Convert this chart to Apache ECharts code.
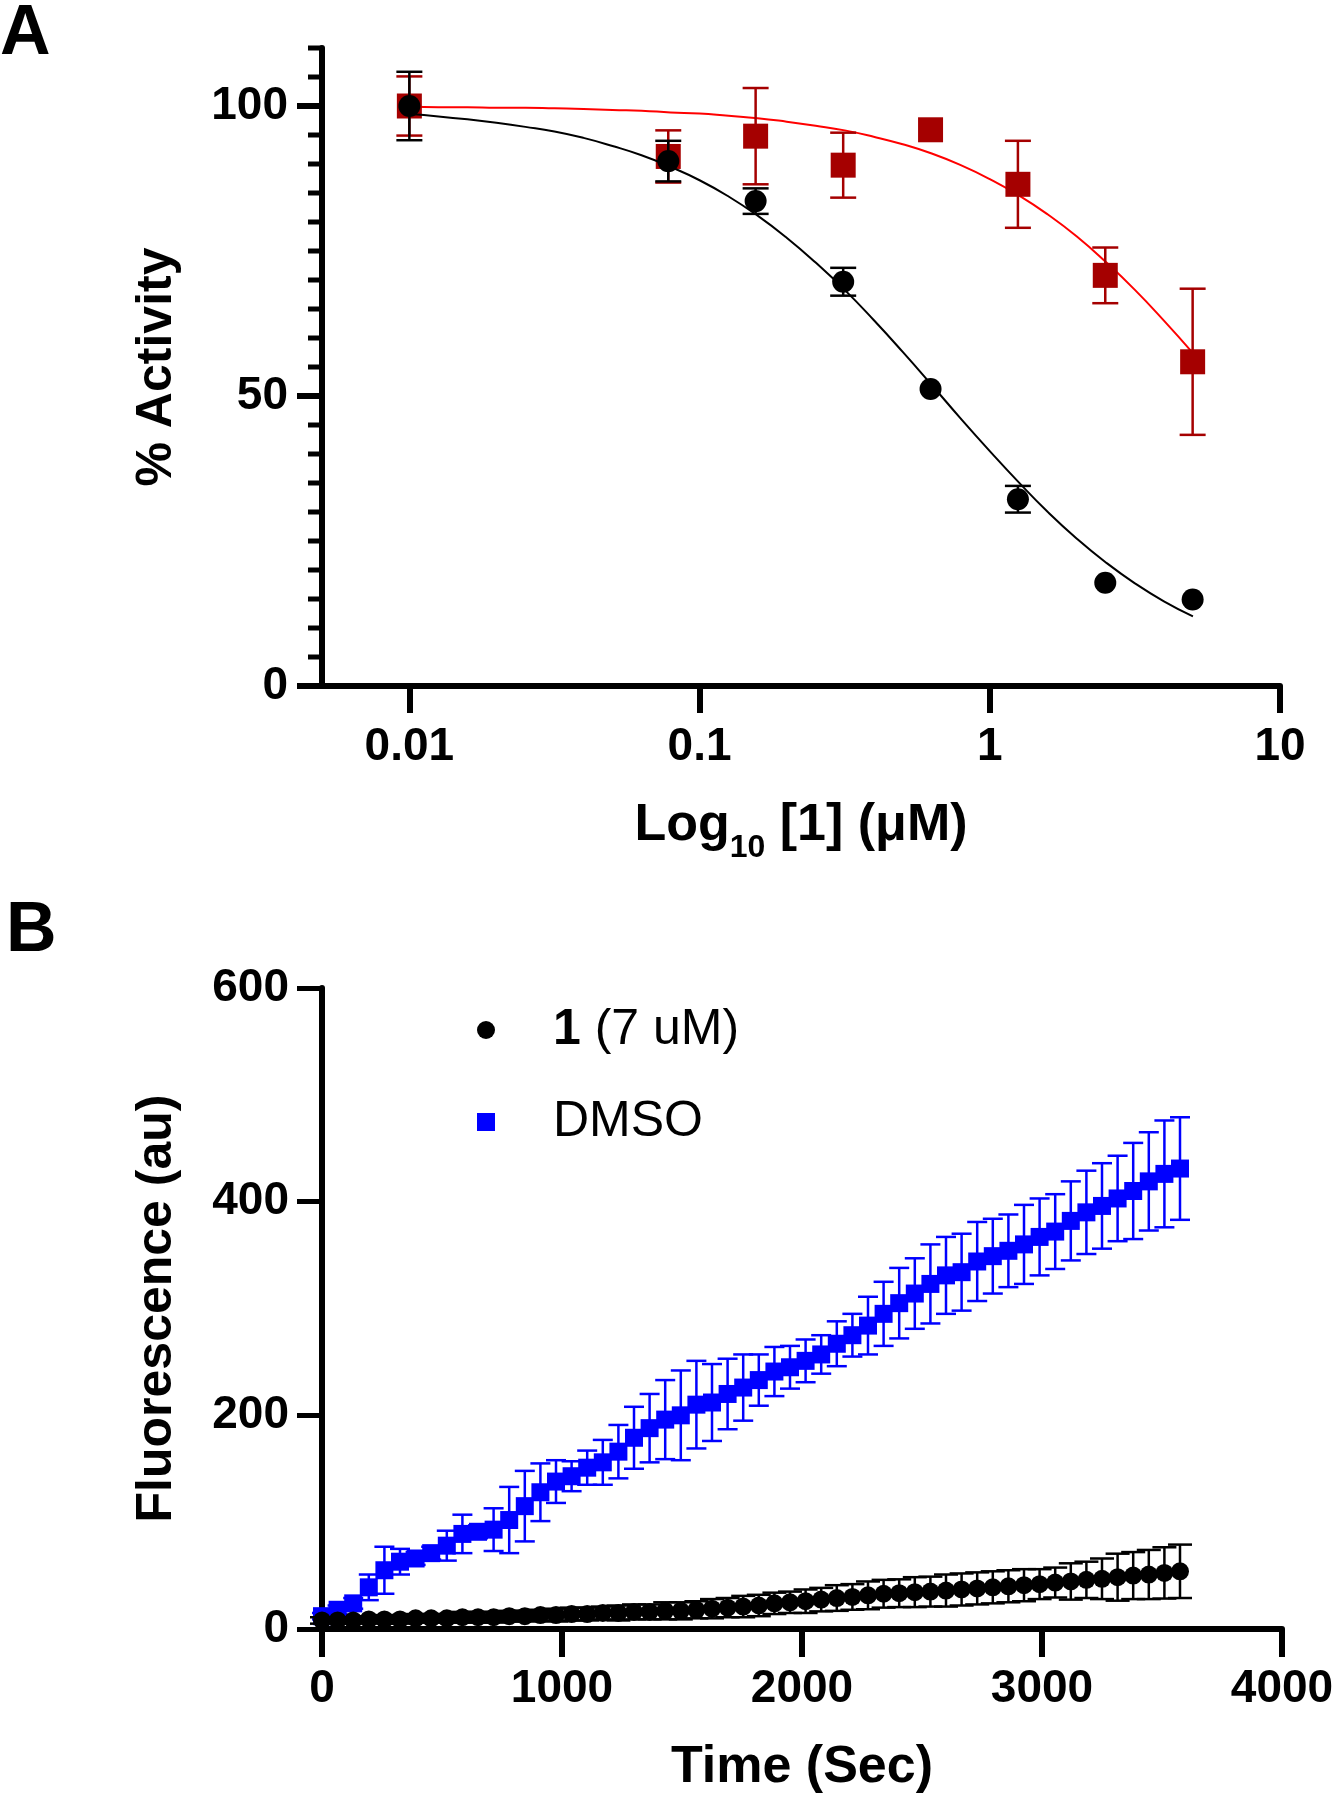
<!DOCTYPE html>
<html><head><meta charset="utf-8">
<script src="https://cdn.jsdelivr.net/npm/echarts@6/dist/echarts.min.js"></script>
<style>html,body{margin:0;padding:0;background:#fff}#c{width:1338px;height:1800px}</style>
</head><body><div id="c"></div>
<script>
// ---------- Panel A data ----------
const concA = [0.01, 0.078, 0.156, 0.3125, 0.625, 1.25, 2.5, 5];
const blackA = [100, 90.5, 83.6, 69.7, 51.2, 32.2, 17.8, 14.9];
const blackAErr = [5.9, 3.5, 2.2, 2.4, 0, 2.3, 0, 0];
const redA = [100, 91.3, 94.8, 89.8, 95.9, 86.5, 70.8, 55.9];
const redAErr = [5.1, 4.5, 8.3, 5.6, 0, 7.5, 4.8, 12.6];
const fitLogConc = [-2.0,-1.9,-1.8,-1.7,-1.6,-1.5,-1.4,-1.3,-1.2,-1.1,-1.0,-0.9,-0.8,-0.7,-0.6,-0.5,-0.4,-0.3,-0.2,-0.1,0.0,0.1,0.2,0.3,0.4,0.5,0.6,0.7];
const fitBlack = [98.6,98.2,97.7,97.1,96.4,95.6,94.5,93.1,91.5,89.5,87.2,84.4,81.1,77.3,73.0,68.3,63.1,57.6,51.9,46.1,40.5,35.1,30.0,25.4,21.3,17.7,14.6,12.0];
const fitRed = [99.9,99.8,99.8,99.7,99.7,99.6,99.5,99.3,99.2,98.9,98.7,98.3,97.9,97.3,96.6,95.8,94.7,93.4,91.8,89.8,87.4,84.6,81.3,77.5,73.1,68.3,63.0,57.4];
const xTicksA = [0.01, 0.1, 1, 10];
const xTickLabelsA = ['0.01', '0.1', '1', '10'];
const yTicksA = [0, 50, 100];
const yMinorTicksA = [5,10,15,20,25,30,35,40,45,55,60,65,70,75,80,85,90,95,105,110];

// ---------- Panel B data ----------
const timeB = [0,65,130,195,260,325,390,455,520,585,650,715,780,845,910,975,1040,1105,1170,1235,1300,1365,1430,1495,1560,1625,1690,1755,1820,1885,1950,2015,2080,2145,2210,2275,2340,2405,2470,2535,2600,2665,2730,2795,2860,2925,2990,3055,3120,3185,3250,3315,3380,3445,3510,3575];
const cmpdB = [8,8,8,9,9,9,10,10,10,11, 11,11,12,12,13,13,14,14,15,15, 16,16,17,17,18,19,20,21,22,24, 25,26,27.5,29,30,31.5,33,33.5,34.5,35, 36,37,38,39,40,41,42,43.5,44.5,46, 47,48.5,50,51,52.5,54];
const cmpdBErr = [3,3,3,3,4,4,4,4,4,5, 5,5,5,5,5,6,6,6,6,7, 7,7,8,8,8,9,9,10,10,10, 10,11,11,12,12,13,13,13,14,14, 15,15,15,15,15,15,14,14,17,17, 19,22,22,23,24,25];
const dmsoB = [12,18,24,39,55,63,66,71,78,89, 91,93,102,115,128,138,143,151,156,166, 179,188,196,200,210,212,220,226,233,241, 245,251,257,267,275,284,295,305,314,323, 331,334,344,349,354,360,367,372,382,390, 396,403,410,419,426,431];
const dmsoBErr = [3,4,5,12,22,12,6,6,14,18, 6,20,31,33,27,20,14,16,21,25, 29,32,37,42,41,36,33,31,24,23, 20,20,18,21,20,27,30,33,33,37, 36,36,37,35,34,37,36,35,37,39, 40,40,45,46,50,48];
const yTicksB = [0, 200, 400, 600];
const xTicksB = [0, 1000, 2000, 3000, 4000];

// ---------- helpers ----------
const FF = '"Liberation Sans", Arial, sans-serif';
const log10 = v => Math.log10(v);
const xMinA = log10(0.005);
function errRender(capHalf, color, lw) {
  return function (params, api) {
    const x = api.value(0), lo = api.value(1), hi = api.value(2);
    if (!(hi > lo)) return null;
    const pHi = api.coord([x, hi]), pLo = api.coord([x, lo]);
    const st = { stroke: color, lineWidth: lw };
    return { type: 'group', children: [
      { type: 'line', shape: { x1: pHi[0], y1: pHi[1], x2: pLo[0], y2: pLo[1] }, style: st },
      { type: 'line', shape: { x1: pHi[0] - capHalf, y1: pHi[1], x2: pHi[0] + capHalf, y2: pHi[1] }, style: st },
      { type: 'line', shape: { x1: pLo[0] - capHalf, y1: pLo[1], x2: pLo[0] + capHalf, y2: pLo[1] }, style: st }
    ]};
  };
}
// minor tick marks: drawn in a narrow strip-grid that shares the % Activity scale
function minorTickRender(params, api) {
  const a = api.coord([0, api.value(0)]);
  const b = api.coord([1, api.value(0)]);
  return { type: 'line', shape: { x1: a[0], y1: a[1], x2: b[0], y2: b[1] }, style: { stroke: '#000', lineWidth: 5 } };
}
const errData = (xs, ys, es, fx) => xs.map((x, i) => [fx ? fx(x) : x, ys[i] - es[i], ys[i] + es[i]]);
const axisFont = { fontFamily: FF, fontWeight: 'bold', fontSize: 46, color: '#000' };
const lineBlack = w => ({ lineStyle: { color: '#000', width: w } });
const hiddenAxis = { show: false, axisLine: { show: false, onZero: false }, axisTick: { show: false }, axisLabel: { show: false }, splitLine: { show: false } };

const chart = echarts.init(document.getElementById('c'), null, { renderer: 'canvas', width: 1338, height: 1800 });
const option = {
  animation: false,
  grid: [
    { left: 322, top: 48, width: 958, height: 638 },
    { left: 322, top: 988, width: 960, height: 641 },
    { left: 308, top: 48, width: 14, height: 638 }
  ],
  xAxis: [
    { type: 'value', gridIndex: 0, min: xMinA, max: 1,
      axisLine: { show: true, onZero: false, ...lineBlack(6) },
      axisTick: { show: true, customValues: xTicksA.map(log10), length: 27, ...lineBlack(6) },
      axisLabel: { show: true, customValues: xTicksA.map(log10), margin: 38, ...axisFont,
        formatter: v => { const i = xTicksA.findIndex(t => Math.abs(log10(t) - v) < 1e-6); return i >= 0 ? xTickLabelsA[i] : ''; } },
      splitLine: { show: false },
      name: '{a|Log}{s|10}{a| [1] (μM)}', nameLocation: 'middle', nameGap: 102,
      nameTextStyle: { rich: {
        a: { fontFamily: FF, fontWeight: 'bold', fontSize: 52, lineHeight: 76, color: '#000' },
        s: { fontFamily: FF, fontWeight: 'bold', fontSize: 32, lineHeight: 32, verticalAlign: 'bottom', color: '#000' } } }
    },
    { type: 'value', gridIndex: 1, min: 0, max: 4000, interval: 1000,
      axisLine: { show: true, onZero: false, ...lineBlack(6) },
      axisTick: { show: true, length: 28, ...lineBlack(6) },
      axisLabel: { margin: 37, ...axisFont, formatter: v => String(v) },
      splitLine: { show: false },
      name: 'Time (Sec)', nameLocation: 'middle', nameGap: 113,
      nameTextStyle: { fontFamily: FF, fontWeight: 'bold', fontSize: 52, color: '#000' }
    },
    { type: 'value', gridIndex: 2, min: 0, max: 1, ...hiddenAxis }
  ],
  yAxis: [
    { type: 'value', gridIndex: 0, position: 'left', min: 0, max: 110,
      axisLine: { show: true, onZero: false, ...lineBlack(6) },
      axisTick: { show: true, customValues: yTicksA, length: 25, ...lineBlack(6) },
      axisLabel: { customValues: yTicksA, margin: 34, ...axisFont, formatter: v => yTicksA.indexOf(v) >= 0 ? String(v) : '' },
      splitLine: { show: false },
      name: '% Activity', nameLocation: 'middle', nameRotate: 90, nameGap: 140,
      nameTextStyle: { fontFamily: FF, fontWeight: 'bold', fontSize: 50, color: '#000' }
    },
    { type: 'value', gridIndex: 1, position: 'left', min: 0, max: 600, interval: 200,
      axisLine: { show: true, onZero: false, ...lineBlack(6) },
      axisTick: { show: true, length: 25, ...lineBlack(5) },
      axisLabel: { margin: 33, ...axisFont, formatter: v => String(v) },
      splitLine: { show: false },
      name: 'Fluorescence (au)', nameLocation: 'middle', nameRotate: 90, nameGap: 140,
      nameTextStyle: { fontFamily: FF, fontWeight: 'bold', fontSize: 50, color: '#000' }
    },
    { type: 'value', gridIndex: 2, min: 0, max: 110, ...hiddenAxis }
  ],
  legend: {
    orient: 'vertical', left: 477, top: 1005, padding: 0, itemGap: 42,
    itemWidth: 18, itemHeight: 18, selectedMode: false,
    data: [{ name: '1 (7 uM)', icon: 'circle' }, { name: 'DMSO', icon: 'rect' }],
    formatter: n => n === 'DMSO' ? '{sp|}{n|DMSO}' : '{sp|}{b|1}{n| (7 uM)}',
    textStyle: { rich: {
      sp: { width: 53 },
      b: { fontFamily: FF, fontWeight: 'bold', fontSize: 50, color: '#000' },
      n: { fontFamily: FF, fontSize: 50, color: '#000' } } }
  },
  graphic: [
    { type: 'text', left: 0, top: 0, style: { text: 'A', font: 'bold 70px "Liberation Sans", Arial', fill: '#000' } },
    { type: 'text', left: 6, top: 897, style: { text: 'B', font: 'bold 70px "Liberation Sans", Arial', fill: '#000' } }
  ],
  series: [
    // Panel A - minor ticks of the % Activity axis
    { type: 'custom', name: 'yMinorTicks', xAxisIndex: 2, yAxisIndex: 2, clip: false, silent: true,
      renderItem: minorTickRender, encode: { y: 0 }, data: yMinorTicksA.map(v => [v]), z: 10 },
    // Panel A - red
    { type: 'line', name: 'fitRed', xAxisIndex: 0, yAxisIndex: 0, smooth: true, showSymbol: false, silent: true,
      data: fitLogConc.map((t, i) => [t, fitRed[i]]), lineStyle: { color: '#ff0000', width: 2 }, z: 2 },
    { type: 'custom', name: 'redErr', xAxisIndex: 0, yAxisIndex: 0, renderItem: errRender(13, '#a50000', 2.5),
      encode: { x: 0, y: [1, 2] }, data: errData(concA, redA, redAErr, log10), z: 3 },
    { type: 'scatter', name: 'red', xAxisIndex: 0, yAxisIndex: 0, symbol: 'rect', symbolSize: 25,
      itemStyle: { color: '#a50000', opacity: 1 }, data: concA.map((c, i) => [log10(c), redA[i]]), z: 4 },
    // Panel A - black
    { type: 'line', name: 'fitBlack', xAxisIndex: 0, yAxisIndex: 0, smooth: true, showSymbol: false, silent: true,
      data: fitLogConc.map((t, i) => [t, fitBlack[i]]), lineStyle: { color: '#000', width: 2 }, z: 5 },
    { type: 'custom', name: 'blackErr', xAxisIndex: 0, yAxisIndex: 0, renderItem: errRender(13, '#000', 2.5),
      encode: { x: 0, y: [1, 2] }, data: errData(concA, blackA, blackAErr, log10), z: 6 },
    { type: 'scatter', name: 'black', xAxisIndex: 0, yAxisIndex: 0, symbol: 'circle', symbolSize: 22,
      itemStyle: { color: '#000', opacity: 1 }, data: concA.map((c, i) => [log10(c), blackA[i]]), z: 7 },
    // Panel B - DMSO
    { type: 'custom', name: 'dmsoErr', xAxisIndex: 1, yAxisIndex: 1, renderItem: errRender(10, '#0000ff', 2.5),
      encode: { x: 0, y: [1, 2] }, data: errData(timeB, dmsoB, dmsoBErr), z: 2 },
    { type: 'scatter', name: 'DMSO', xAxisIndex: 1, yAxisIndex: 1, symbol: 'rect', symbolSize: 18,
      itemStyle: { color: '#0000ff', opacity: 1 }, data: timeB.map((t, i) => [t, dmsoB[i]]), z: 3 },
    // Panel B - compound 1
    { type: 'custom', name: 'cmpdErr', xAxisIndex: 1, yAxisIndex: 1, renderItem: errRender(12, '#000', 2.5),
      encode: { x: 0, y: [1, 2] }, data: errData(timeB, cmpdB, cmpdBErr), z: 4 },
    { type: 'scatter', name: '1 (7 uM)', xAxisIndex: 1, yAxisIndex: 1, symbol: 'circle', symbolSize: 18,
      itemStyle: { color: '#000', opacity: 1 }, data: timeB.map((t, i) => [t, cmpdB[i]]), z: 5 }
  ]
};
chart.setOption(option);
</script></body></html>
